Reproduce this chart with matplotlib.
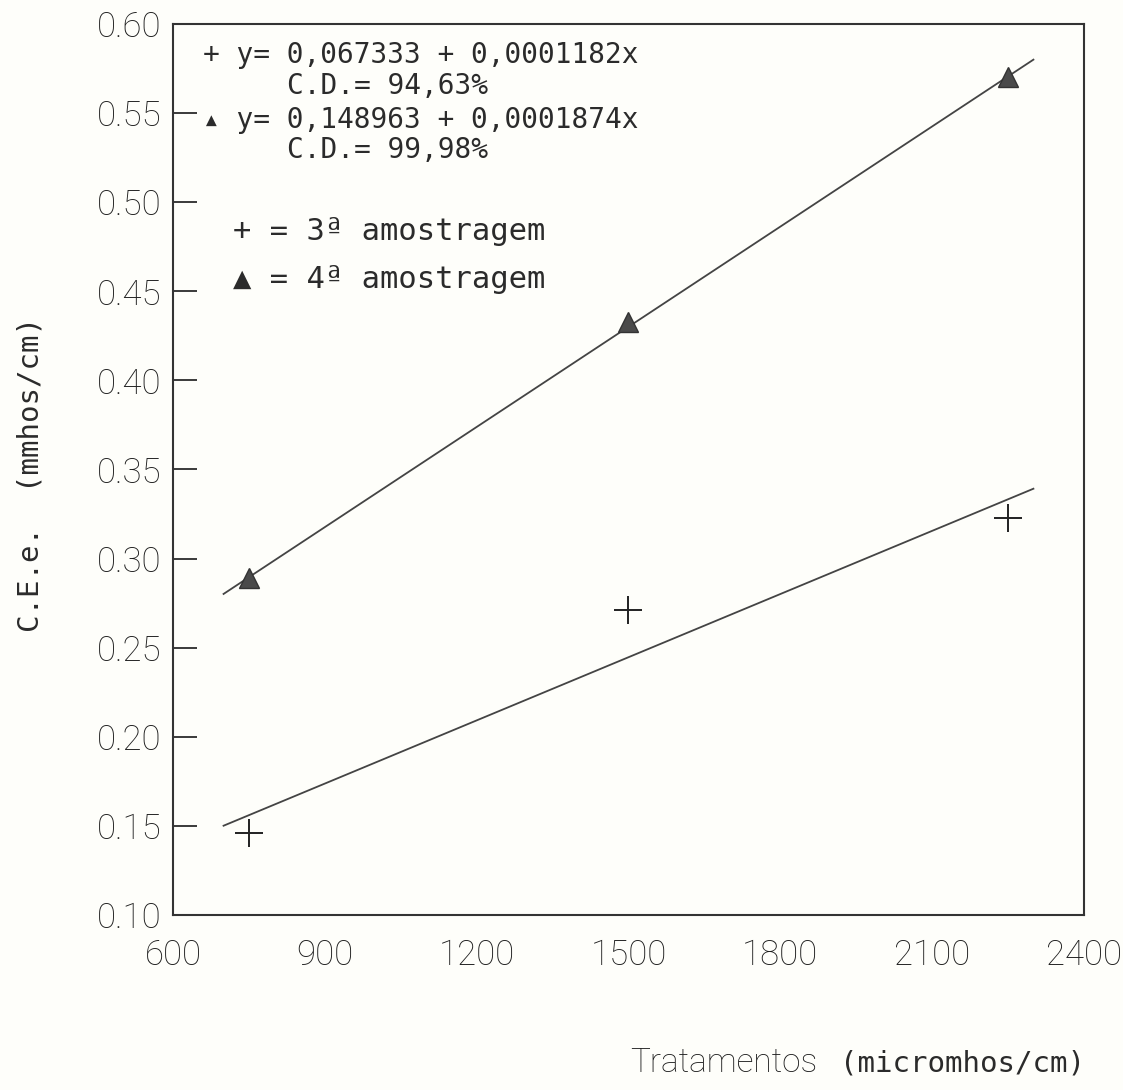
import numpy as np
import matplotlib
matplotlib.use("Agg")
import matplotlib.pyplot as plt

# -----------------------
# DATA
# -----------------------
tratamentos = [750, 1500, 2250]
amostra3 = [0.146, 0.271, 0.323]
amostra4 = [0.289, 0.433, 0.570]

# regression coefficients (intercept, slope)
fit3 = (0.067333, 0.0001182)
fit4 = (0.148963, 0.0001874)
fit_range = [700, 2300]

xticks = [600, 900, 1200, 1500, 1800, 2100, 2400]
yticks = [0.10, 0.15, 0.20, 0.25, 0.30, 0.35, 0.40, 0.45, 0.50, 0.55, 0.60]

# -----------------------
# STYLE
# -----------------------
bg = "#fefefa"
ink = "#2b2b2b"
tick_font = dict(family=["Roboto", "DejaVu Sans"], weight="light", size=25)
mono = dict(family=["DejaVu Sans Mono"], size=20, color=ink)

fig = plt.figure(figsize=(11.23, 10.90), dpi=100, facecolor=bg)
ax = fig.add_axes([0.154, 0.1606, 0.8113, 0.8174], facecolor=bg)

# fitted lines
xs = np.array(fit_range)
ax.plot(xs, fit4[0] + fit4[1] * xs, color="#444444", lw=1.3)
ax.plot(xs, fit3[0] + fit3[1] * xs, color="#444444", lw=1.3)

# points
ax.plot(tratamentos, amostra4, linestyle="none", marker="^", markersize=15,
        color="#4a4a4a", markeredgecolor="#333333")
ax.plot(tratamentos, amostra3, linestyle="none", marker="+", markersize=20,
        markeredgewidth=1.4, color="#222222")

ax.set_xlim(600, 2400)
ax.set_ylim(0.10, 0.60)
ax.set_xticks(xticks)
ax.set_yticks(yticks)
ax.set_xticklabels([str(v) for v in xticks], **tick_font, color="#1e1e1e")
ax.set_yticklabels([f"{v:.2f}" for v in yticks], **tick_font, color="#1e1e1e")
ax.tick_params(axis="y", direction="in", length=17, width=1.3, pad=8, color=ink)
ax.tick_params(axis="x", length=0, pad=17)

for s in ax.spines.values():
    s.set_linewidth(1.5)
    s.set_color("#333333")

# equations
ax.text(0.033, 0.965, "+ y= 0,067333 + 0,0001182x", transform=ax.transAxes, va="center", **mono)
ax.text(0.125, 0.930, "C.D.= 94,63%", transform=ax.transAxes, va="center", **mono)
ax.text(0.033, 0.892, "\u25B4 y= 0,148963 + 0,0001874x", transform=ax.transAxes, va="center", **mono)
ax.text(0.125, 0.858, "C.D.= 99,98%", transform=ax.transAxes, va="center", **mono)

# legend
leg = dict(mono, size=22)
ax.text(0.066, 0.767, "+ = 3\u00AA amostragem", transform=ax.transAxes, va="center", **leg)
ax.text(0.066, 0.713, "\u25B2 = 4\u00AA amostragem", transform=ax.transAxes, va="center", **leg)

# axis labels
fig.text(0.027, 0.565, "C.E.e.  (mmhos/cm)", rotation=90, ha="center", va="center",
         **dict(mono, size=21))
fig.text(0.561, 0.025, "Tratamentos", ha="left", va="center",
         family=["Roboto", "DejaVu Sans"], weight="light", size=24, color="#1e1e1e")
fig.text(0.748, 0.024, "(micromhos/cm)", ha="left", va="center", **dict(mono, size=21))

plt.savefig("out.png", dpi=100, facecolor=bg)
